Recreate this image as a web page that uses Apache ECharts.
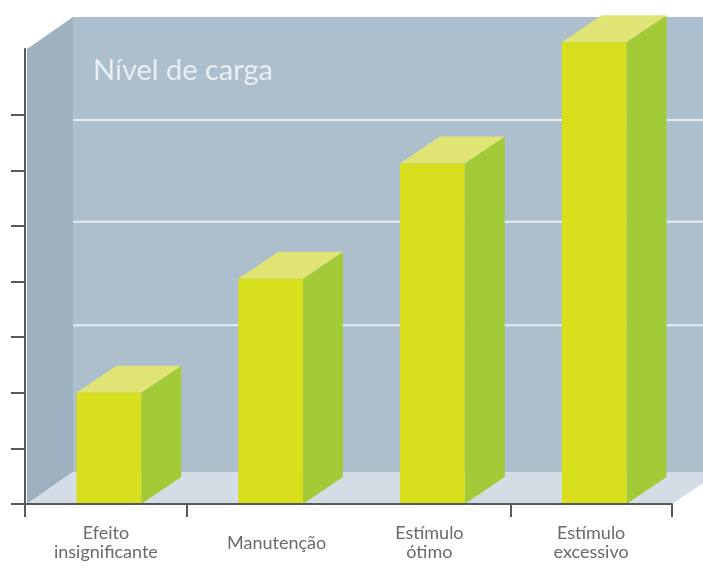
<!DOCTYPE html>
<html>
<head>
<meta charset="utf-8">
<script src="https://cdn.jsdelivr.net/npm/echarts@6/dist/echarts.min.js"></script>
<style>
html,body{margin:0;padding:0;background:#ffffff;}
#chart{width:703px;height:576px;}
</style>
</head>
<body>
<div id="chart"></div>
<script>
// ---- data ----
const categories = ['Efeito\ninsignificante', 'Manutenção', 'Estímulo\nótimo', 'Estímulo\nexcessivo'];
const values = [2.0, 4.05, 6.12, 8.3];
const yTicks = [0, 1, 2, 3, 4, 5, 6, 7];
const wallGridLevels = [2.64, 4.5, 6.33];
const yMax = 8.18;
const titleText = 'Nível de carga';

// ---- style ----
const wallDepth = [48, -32];
const barDepth = [40, -27];
const barShift = 3;
const colors = {
  backWall: '#adbfcd',
  leftWall: '#9db1c1',
  floor: '#d4dde6',
  grid: '#e6edf2',
  front: '#d8df1c',
  side: '#a3cb37',
  top: '#dfe475',
  axis: '#595959',
  label: '#6a6a6a'
};

const chart = echarts.init(document.getElementById('chart'), null, {renderer: 'canvas'});

function renderBox(params, api) {
  const cs = params.coordSys;
  const left = cs.x, right = cs.x + cs.width;
  const yBottom = api.coord([0, 0])[1];
  const yTop = api.coord([0, yMax])[1];
  const dx = wallDepth[0], dy = wallDepth[1];
  const children = [];
  // back wall
  children.push({type: 'polygon', shape: {points: [
    [left + dx, yTop + dy], [right + dx, yTop + dy], [right + dx, yBottom + dy], [left + dx, yBottom + dy]
  ]}, style: {fill: colors.backWall}});
  // left wall
  children.push({type: 'polygon', shape: {points: [
    [left + 2, yTop], [left + dx, yTop + dy], [left + dx, yBottom + dy], [left + 2, yBottom]
  ]}, style: {fill: colors.leftWall}});
  // floor
  children.push({type: 'polygon', shape: {points: [
    [left + 2, yBottom], [right, yBottom], [right + dx, yBottom + dy], [left + dx, yBottom + dy]
  ]}, style: {fill: colors.floor}});
  // gridlines on the back wall
  wallGridLevels.forEach(function (v) {
    const y = api.coord([0, v])[1] + dy;
    children.push({type: 'line', shape: {x1: left + dx, y1: y, x2: right + dx, y2: y},
      style: {stroke: colors.grid, lineWidth: 2}});
  });
  return {type: 'group', children: children};
}

function renderBar(params, api) {
  const cat = api.value(0), val = api.value(1);
  const base = api.coord([cat, 0]);
  const top = api.coord([cat, val]);
  const bw = api.size([1, 0])[0] * 0.4;
  const x0 = base[0] - bw / 2 + barShift, x1 = x0 + bw;
  const yb = base[1], yt = top[1];
  const dx = barDepth[0], dy = barDepth[1];
  return {type: 'group', children: [
    {type: 'polygon', shape: {points: [[x1, yb], [x1 + dx, yb + dy], [x1 + dx, yt + dy], [x1, yt]]},
      style: {fill: colors.side}},
    {type: 'polygon', shape: {points: [[x0, yt], [x1, yt], [x1 + dx, yt + dy], [x0 + dx, yt + dy]]},
      style: {fill: colors.top}},
    {type: 'rect', shape: {x: x0, y: yt, width: bw, height: yb - yt},
      style: {fill: colors.front}}
  ]};
}

const option = {
  backgroundColor: '#ffffff',
  animation: false,
  title: {
    text: titleText,
    left: 88, top: 51,
    textStyle: {fontFamily: 'Lato', fontSize: 29, fontWeight: 'normal', color: '#e8eef2'}
  },
  grid: {left: 25, right: 31, top: 49, bottom: 72, containLabel: false},
  xAxis: {
    type: 'category',
    data: categories,
    boundaryGap: true,
    z: 10,
    axisLine: {show: true, lineStyle: {color: colors.axis, width: 2}},
    axisTick: {show: true, length: 13, lineStyle: {color: colors.axis, width: 2},
      interval: function (i) { return i !== 2; }},
    axisLabel: {
      interval: 0,
      hideOverlap: false,
      margin: 20,
      color: colors.label,
      fontFamily: 'Lato',
      fontSize: 18,
      formatter: function (v) {
        if (v.indexOf('\n') >= 0) {
          return v.split('\n').map(function (s) { return '{a|' + s + '}'; }).join('\n');
        }
        return '{b|' + v + '}';
      },
      rich: {
        a: {fontFamily: 'Lato', fontSize: 18, color: colors.label, lineHeight: 19},
        b: {fontFamily: 'Lato', fontSize: 18, color: colors.label, lineHeight: 38, padding: [0, 0, 0, 18]}
      }
    },
    splitLine: {show: false}
  },
  yAxis: {
    type: 'value',
    min: 0, max: yMax,
    interval: 1,
    z: 10,
    axisLine: {show: true, lineStyle: {color: colors.axis, width: 2}},
    axisTick: {show: true, length: 14, customValues: yTicks, lineStyle: {color: colors.axis, width: 2}},
    axisLabel: {show: false},
    splitLine: {show: false}
  },
  series: [
    {type: 'custom', name: 'box', renderItem: renderBox, data: [[0, 0]], z: 1, silent: true, clip: false},
    {type: 'custom', name: 'bars', renderItem: renderBar,
      data: values.map(function (v, i) { return [i, v]; }), z: 2, clip: false}
  ]
};
chart.setOption(option);
</script>
</body>
</html>
